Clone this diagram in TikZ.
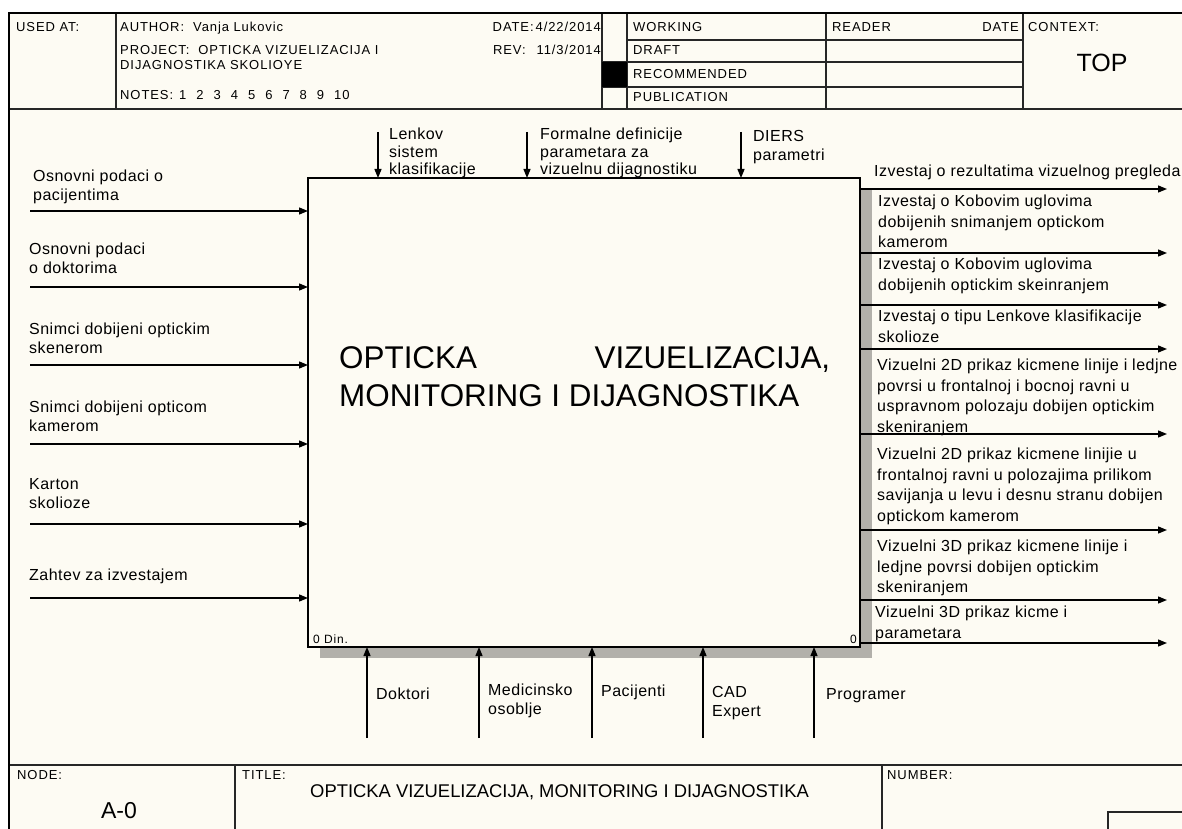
\documentclass[tikz,border=0pt]{standalone}
\usepackage{fontspec}
\setmainfont{Liberation Sans}
\newfontfamily\lblfam[LetterSpace=3]{Liberation Sans}
\newfontfamily\hdrfam[LetterSpace=7]{Liberation Sans}
\usetikzlibrary{arrows.meta}
\definecolor{bgcol}{RGB}{253,251,243}
\definecolor{shadowcol}{RGB}{178,176,170}
\begin{document}
\begin{tikzpicture}[x=1pt,y=-1pt,
  outerline/.style={line width=2.6pt, black},
  rule/.style={line width=1.5pt, black!85},
  arr/.style={line width=1.3pt, -{Triangle[length=9pt,width=7pt]}},
  lbl/.style={font=\lblfam\fontsize{16}{19}\selectfont, align=left, inner sep=0pt, anchor=north west},
  lblr/.style={font=\lblfam\fontsize{16}{20.5}\selectfont, align=left, inner sep=0pt, anchor=north west},
  lblt/.style={font=\lblfam\fontsize{16}{17.5}\selectfont, align=left, inner sep=0pt, anchor=north west},
  hdr/.style={font=\hdrfam\fontsize{13}{15}\selectfont, inner sep=0pt, anchor=base west},
  hdrr/.style={font=\hdrfam\fontsize{13}{15}\selectfont, inner sep=0pt, anchor=base east},
]
\useasboundingbox (0,0) rectangle (1182,829);
\fill[white] (0,0) rectangle (1182,829);
\fill[bgcol] (9,13) rectangle (1190,840);

% ---------- header ----------
\draw[rule] (9,109) -- (1190,109);
\foreach \x in {116,602,627,826,1023} \draw[rule] (\x,13) -- (\x,109);
\draw[rule] (627,40) -- (1023,40);
\draw[rule] (602,62) -- (1023,62);
\draw[rule] (602,87) -- (1023,87);
\fill[black] (602,62) rectangle (627,87);

\node[hdr] (usedat) at (16,32) {USED AT:};
\node[hdr] (author) at (120,32) {AUTHOR:\hspace{9pt}Vanja Lukovic};
\node[hdr] (project) at (120,55) {PROJECT:\hspace{9pt}OPTICKA VIZUELIZACIJA I};
\node[hdr] (project2) at (120,70) {DIJAGNOSTIKA SKOLIOYE};
\node[hdr] (notes) at (120,100) {NOTES:\hspace{6pt}1\hspace{10pt}2\hspace{10pt}3\hspace{10pt}4\hspace{10pt}5\hspace{10pt}6\hspace{10pt}7\hspace{10pt}8\hspace{10pt}9\hspace{10pt}10};
\node[hdrr] (date) at (601,32) {DATE:\hspace{2pt}4/22/2014};
\node[hdrr] (rev) at (601,55) {REV:\hspace{11pt}11/3/2014};
\node[hdr] (working) at (633,32) {WORKING};
\node[hdr] (draft) at (633,55) {DRAFT};
\node[hdr] (recom) at (633,79) {RECOMMENDED};
\node[hdr] (publ) at (633,102) {PUBLICATION};
\node[hdr] (reader) at (832,32) {READER};
\node[hdrr] (rdate) at (1019,32) {DATE};
\node[hdr] (context) at (1028,32) {CONTEXT:};
\node[font=\fontsize{25}{30}\selectfont, inner sep=0pt, anchor=base] (top) at (1102,72) {TOP};

% ---------- title block ----------
\draw[rule] (9,765) -- (1190,765);
\draw[rule] (235,765) -- (235,840);
\draw[rule] (882,765) -- (882,840);
\draw[rule] (1108,840) -- (1108,812) -- (1190,812);
\node[hdr] (nodelbl) at (17,779) {NODE:};
\node[hdr] (titlelbl) at (242,779) {TITLE:};
\node[hdr] (numlbl) at (887,779) {NUMBER:};
\node[font=\fontsize{23}{27}\selectfont, inner sep=0pt, anchor=base] (nodeid) at (119,818) {A-0};
\node[font=\fontsize{18.4}{22}\selectfont, inner sep=0pt, anchor=base west] (titletext) at (310,797) {OPTICKA VIZUELIZACIJA, MONITORING I DIJAGNOSTIKA};

% outer frame
\draw[outerline] (9,840) -- (9,13) -- (1190,13);

% ---------- main box ----------
\fill[shadowcol] (860,190) rectangle (872,658);
\fill[shadowcol] (320,647) rectangle (872,658);
\node[draw, line width=2.6pt, fill=bgcol, minimum width=552pt, minimum height=469pt, inner sep=0pt, outer sep=0pt] (proc) at (584,412.5) {};
\node[anchor=north west, inner sep=0pt, font=\fontsize{31.4}{38}\selectfont, align=left] (ptitle) at (339,346) {\hbox to 491pt{OPTICKA\hfill VIZUELIZACIJA,}\\MONITORING I DIJAGNOSTIKA};
\node[font=\hdrfam\fontsize{12}{14}\selectfont, inner sep=0pt, anchor=base west] (din) at (313,643) {0 Din.};
\node[font=\hdrfam\fontsize{12}{14}\selectfont, inner sep=0pt, anchor=base east] (zero) at (857,643) {0};

% ---------- inputs ----------
\coordinate (i1) at (30,211);
\coordinate (i2) at (30,287);
\coordinate (i3) at (30,365);
\coordinate (i4) at (30,444);
\coordinate (i5) at (30,524);
\coordinate (i6) at (30,598);
\foreach \c in {i1,i2,i3,i4,i5,i6} \draw[arr] (\c) -- (\c -| proc.west);
\node[lbl] (li1) at (33,170) {Osnovni podaci o\\pacijentima};
\node[lbl] (li2) at (29,243) {Osnovni podaci\\o doktorima};
\node[lbl] (li3) at (29,323) {Snimci dobijeni optickim\\skenerom};
\node[lbl] (li4) at (29,401) {Snimci dobijeni opticom\\kamerom};
\node[lbl] (li5) at (29,478) {Karton\\skolioze};
\node[lbl] (li6) at (29,569) {Zahtev za izvestajem};

% ---------- controls ----------
\coordinate (c1) at (378,132);
\coordinate (c2) at (527,132);
\coordinate (c3) at (741,132);
\foreach \c in {c1,c2,c3} \draw[arr] (\c) -- (\c |- proc.north);
\node[lblt] (lc1) at (389,128) {Lenkov\\sistem\\klasifikacije};
\node[lblt] (lc2) at (540,128) {Formalne definicije\\parametara za\\vizuelnu dijagnostiku};
\node[lbl] (lc3) at (753,130) {DIERS\\parametri};

% ---------- outputs ----------
\coordinate (o1) at (1167,189);
\coordinate (o2) at (1167,253);
\coordinate (o3) at (1167,305);
\coordinate (o4) at (1167,349);
\coordinate (o5) at (1167,434);
\coordinate (o6) at (1167,530);
\coordinate (o7) at (1167,600);
\coordinate (o8) at (1167,643);
\foreach \c in {o1,o2,o3,o4,o5,o6,o7,o8} \draw[arr] (\c -| proc.east) -- (\c);
\node[lblr] (lo1) at (874,165) {Izvestaj o rezultatima vizuelnog pregleda};
\node[lblr] (lo2) at (878,195) {Izvestaj o Kobovim uglovima\\dobijenih snimanjem optickom\\kamerom};
\node[lblr] (lo3) at (878,258) {Izvestaj o Kobovim uglovima\\dobijenih optickim skeinranjem};
\node[lblr] (lo4) at (878,310) {Izvestaj o tipu Lenkove klasifikacije\\skolioze};
\node[lblr] (lo5) at (877,359) {Vizuelni 2D prikaz kicmene linije i ledjne\\povrsi u frontalnoj i bocnoj ravni u\\uspravnom polozaju dobijen optickim\\skeniranjem};
\node[lblr] (lo6) at (877,448) {Vizuelni 2D prikaz kicmene linijie u\\frontalnoj ravni u polozajima prilikom\\savijanja u levu i desnu stranu dobijen\\optickom kamerom};
\node[lblr] (lo7) at (877,540) {Vizuelni 3D prikaz kicmene linije i\\ledjne povrsi dobijen optickim\\skeniranjem};
\node[lblr] (lo8) at (875,606) {Vizuelni 3D prikaz kicme i\\parametara};

% ---------- mechanisms ----------
\coordinate (m1) at (367,738);
\coordinate (m2) at (479,738);
\coordinate (m3) at (592,738);
\coordinate (m4) at (703,738);
\coordinate (m5) at (814,738);
\foreach \c in {m1,m2,m3,m4,m5} \draw[arr] (\c) -- (\c |- proc.south);
\node[lbl] (lm1) at (376,688) {Doktori};
\node[lbl] (lm2) at (488,684) {Medicinsko\\osoblje};
\node[lbl] (lm3) at (601,685) {Pacijenti};
\node[lbl] (lm4) at (712,686) {CAD\\Expert};
\node[lbl] (lm5) at (826,688) {Programer};
\end{tikzpicture}
\end{document}
